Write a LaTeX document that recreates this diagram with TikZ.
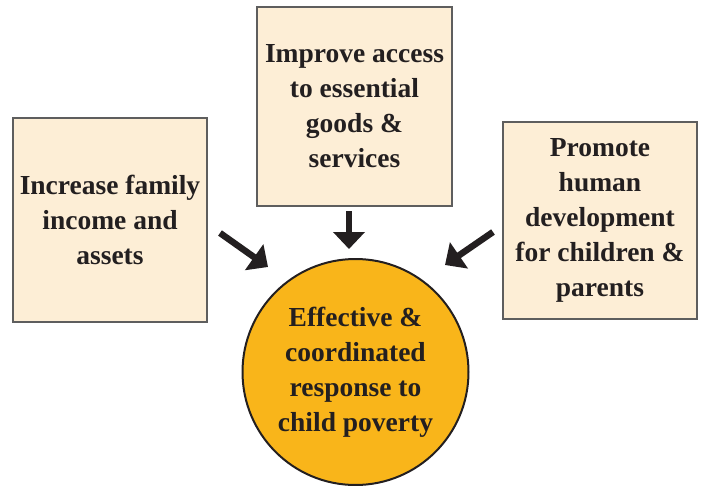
\documentclass[tikz,border=0pt]{standalone}
\usepackage{fontspec}
\setmainfont{Liberation Serif}
\usetikzlibrary{arrows.meta}
\definecolor{boxfill}{HTML}{FDEED6}
\definecolor{boxline}{HTML}{5E5E5E}
\definecolor{circfill}{HTML}{F9B51A}
\definecolor{txt}{HTML}{231F20}
\tikzset{
  x=1pt, y=-1pt,
  boxnode/.style={draw=boxline, line width=2.6pt, fill=boxfill, inner sep=0pt,
    text=txt, align=center, font=\bfseries\fontsize{27.5}{35}\selectfont},
  circnode/.style={circle, draw=txt, line width=2pt, fill=circfill, inner sep=0pt,
    text=txt, align=center, font=\bfseries\fontsize{27.5}{35}\selectfont},
  arrowline/.style={line width=6.5pt, draw=txt, -{Triangle[length=17pt,width=31pt]}}
}
\begin{document}
\begin{tikzpicture}
\useasboundingbox (0,0) rectangle (702,485);
\node[boxnode, minimum width=194pt, minimum height=204pt] (left) at (110,220)
  {Increase family\\income and\\assets};
\node[boxnode, minimum width=195pt, minimum height=199pt] (top) at (354.5,106.5)
  {Improve access\\to essential\\goods \&\\services};
\node[boxnode, minimum width=194pt, minimum height=197pt] (right) at (600,220.5)
  {Promote\\human\\development\\for children \&\\parents};
\node[circnode, minimum size=226pt] (goal) at (355.5,372)
  {Effective \&\\coordinated\\response to\\child poverty};
\coordinate (ls) at (220,233);
\coordinate (le) at (268,267);
\coordinate (ms) at (349,211);
\coordinate (me) at (349,249);
\coordinate (rs) at (493,232);
\coordinate (re) at (445,265);
\draw[arrowline] (ls) -- (le);
\draw[arrowline] (ms) -- (me);
\draw[arrowline] (rs) -- (re);
\end{tikzpicture}
\end{document}
